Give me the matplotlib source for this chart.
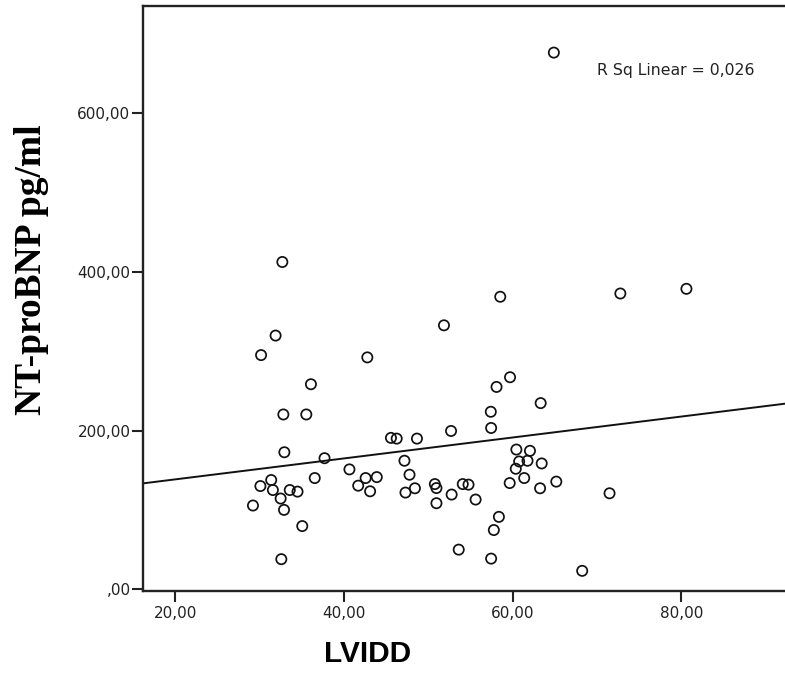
import numpy as np
import matplotlib
matplotlib.use("Agg")
import matplotlib.pyplot as plt

# LVIDD (x) and NT-proBNP (y)
lvidd = [
    32.71, 31.91, 30.19, 42.78, 36.10, 32.83, 35.55, 32.95, 37.71, 40.66,
    36.55, 31.39, 42.58, 43.90, 30.11, 31.59, 33.59, 34.51, 41.70, 43.11,
    32.51, 29.23, 32.91, 35.07, 32.59,
    58.53, 72.76, 80.59, 51.86, 59.69, 58.09, 63.32, 57.41, 57.45, 52.70,
    45.58, 46.26, 48.66, 60.44, 62.05, 47.18, 60.77, 61.76, 63.44, 60.37,
    47.78, 61.37, 59.65, 65.17, 50.78, 54.09, 54.77, 48.42, 50.97, 47.30,
    63.25, 52.77, 71.48, 50.97, 55.61, 58.37, 57.77, 53.61, 57.45, 68.24,
    64.88,
]
ntprobnp = [
    412.5, 319.8, 295.2, 292.3, 258.5, 220.4, 220.4, 172.8, 165.3, 151.2,
    140.3, 137.8, 140.3, 141.5, 130.2, 125.2, 125.2, 123.2, 130.7, 123.6,
    114.5, 105.7, 100.2, 79.8, 38.1,
    368.7, 372.8, 378.7, 332.7, 267.3, 255.1, 234.7, 223.8, 203.4, 199.6,
    190.9, 190.0, 190.0, 176.2, 174.6, 162.1, 161.2, 162.1, 158.7, 152.0,
    144.5, 140.3, 134.0, 135.8, 132.7, 132.7, 132.0, 127.4, 127.7, 122.0,
    127.4, 119.5, 121.1, 108.6, 113.2, 91.4, 74.8, 50.1, 38.8, 23.4,
    676.3,
]
x_ticks = [20, 40, 60, 80]
y_ticks = [0, 200, 400, 600]
r_sq_text = "R Sq Linear = 0,026"


def comma_fmt(v):
    s = f"{v:.2f}".replace(".", ",")
    return s[1:] if s.startswith("0,") else s


x = np.array(lvidd)
y = np.array(ntprobnp)
slope, intercept = np.polyfit(x, y, 1)

W, H = 785, 675
fig = plt.figure(figsize=(W / 100, H / 100), dpi=100)
ax = fig.add_axes([143 / W, (H - 591) / H, (W - 143) / W + 0.01, (591 - 6) / H])

ax.scatter(x, y, s=54, facecolors="none", edgecolors="#111111", linewidths=1.25, zorder=3)

xlim = (16.2, 93.2)
line_x = np.array(xlim)
ax.plot(line_x, intercept + slope * line_x, color="#111111", lw=1.4, zorder=2)

ax.set_xlim(*xlim)
ax.set_ylim(-2, 735)
ax.set_xticks(x_ticks)
ax.set_yticks(y_ticks)
ax.set_xticklabels([comma_fmt(v) for v in x_ticks])
ax.set_yticklabels([comma_fmt(v) for v in y_ticks])
ax.tick_params(axis="both", direction="out", length=8, width=1.5, color="#222222",
               labelsize=11, labelcolor="#222222")
ax.tick_params(axis="x", pad=3)
ax.tick_params(axis="y", pad=1)
for lab in ax.get_xticklabels() + ax.get_yticklabels():
    lab.set_family("DejaVu Sans")

ax.spines["right"].set_visible(False)
for side in ("left", "bottom", "top"):
    ax.spines[side].set_linewidth(1.7)
    ax.spines[side].set_color("#222222")

fig.text(597 / W, (H - 71) / H, r_sq_text, family="DejaVu Sans", fontsize=11.3,
         color="#222222", ha="left", va="center")

fig.text(32 / W, (H - 270) / H, "NT-proBNP pg/ml", family="Liberation Serif",
         fontweight="bold", fontsize=27, rotation=90, ha="center", va="center")
fig.text(368 / W, (H - 654) / H, "LVIDD", family="Liberation Sans",
         fontweight="bold", fontsize=21.5, ha="center", va="center")

fig.savefig("out.png", dpi=100)
